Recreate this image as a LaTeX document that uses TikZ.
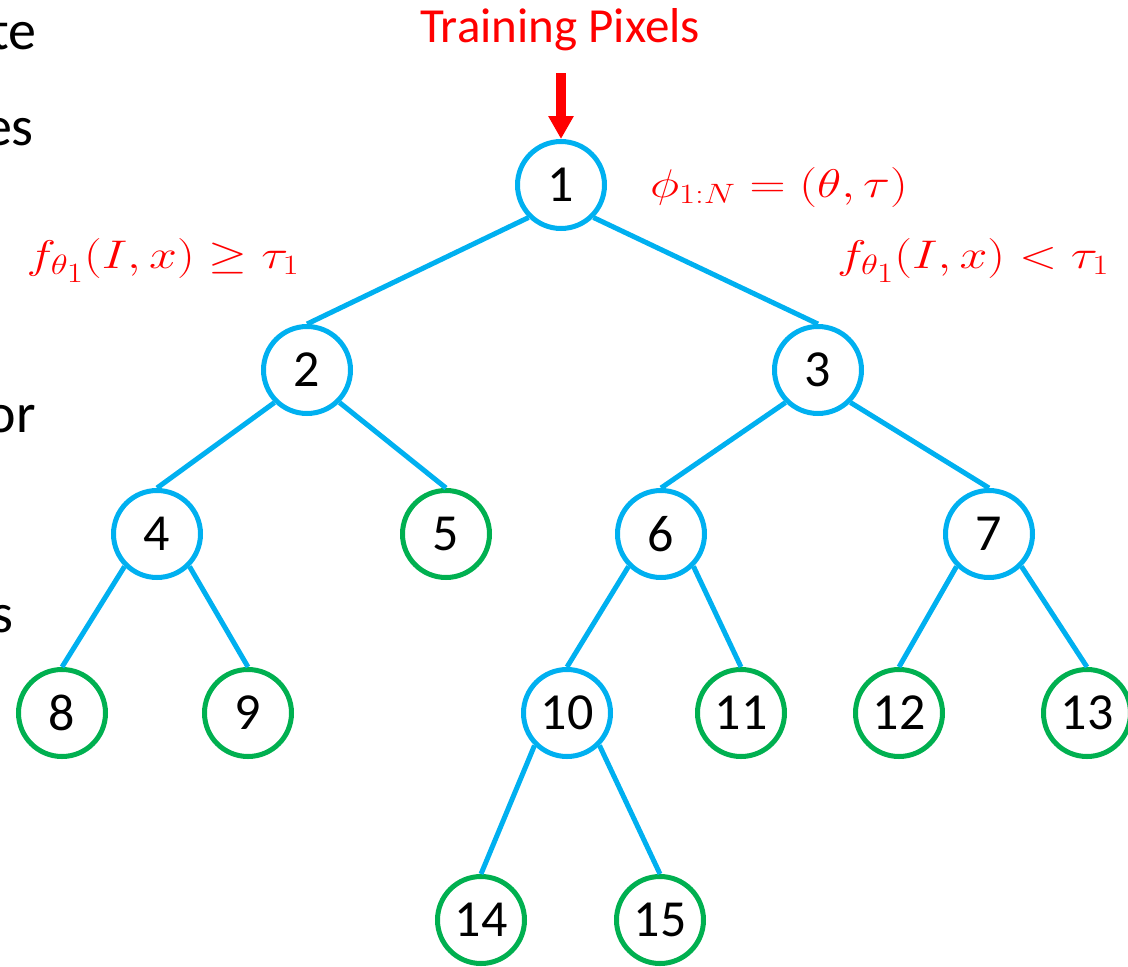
\RequirePackage{fix-cm}
\documentclass[tikz,border=0pt]{standalone}
\usepackage{graphicx}
\usepackage[no-math]{fontspec}
\setmainfont{Carlito}
\usetikzlibrary{arrows.meta}
\definecolor{tblue}{RGB}{0,176,240}
\definecolor{tgreen}{RGB}{0,176,80}
\newcommand{\wmath}[1]{\scalebox{1.25}[1]{$#1$}}
\begin{document}
\begin{tikzpicture}[x=1pt,y=-1pt,
  tn/.style={circle,draw=tblue,line width=5pt,minimum size=87pt,inner sep=0pt,font=\fontsize{52}{60}\selectfont},
  leaf/.style={tn,draw=tgreen},
  edge/.style={draw=tblue,line width=5pt},
  lbl/.style={text=red,inner sep=0pt,font=\fontsize{40}{44}\selectfont},
  side/.style={font=\fontsize{56}{60}\selectfont,anchor=base east,inner sep=0pt}]
\useasboundingbox (0,0) rectangle (1128,967);
\clip (0,0) rectangle (1128,967);
% cut-off slide text at left
\node[side] (s1) at (37,49) {te};
\node[side] (s2) at (34,145) {es};
\node[side] (s3) at (36,432) {or};
\node[side] (s4) at (14,632) {s};
% tree nodes
\node[tn] (n1) at (561,185) {1};
\node[tn] (n2) at (307,370) {2};
\node[tn] (n3) at (818,370) {3};
\node[tn] (n4) at (157,534) {4};
\node[leaf] (n5) at (446,534) {5};
\node[tn] (n6) at (661,534) {6};
\node[tn] (n7) at (989,534) {7};
\node[leaf] (n8) at (62,713) {8};
\node[leaf] (n9) at (248,713) {9};
\node[tn] (n10) at (567,713) {10};
\node[leaf] (n11) at (741,713) {11};
\node[leaf] (n12) at (899,713) {12};
\node[leaf] (n13) at (1087,713) {13};
\node[leaf] (n14) at (481,920) {14};
\node[leaf] (n15) at (660,920) {15};
% edges
\draw[edge] (n1.225) -- (n2.north);
\draw[edge] (n1.315) -- (n3.north);
\draw[edge] (n2.225) -- (n4.north);
\draw[edge] (n2.315) -- (n5.north);
\draw[edge] (n3.225) -- (n6.north);
\draw[edge] (n3.315) -- (n7.north);
\draw[edge] (n4.225) -- (n8.north);
\draw[edge] (n4.315) -- (n9.north);
\draw[edge] (n6.225) -- (n10.north);
\draw[edge] (n6.315) -- (n11.north);
\draw[edge] (n7.225) -- (n12.north);
\draw[edge] (n7.315) -- (n13.north);
\draw[edge] (n10.225) -- (n14.north);
\draw[edge] (n10.315) -- (n15.north);
% input arrow and labels
\node[text=red,font=\fontsize{49}{56}\selectfont] (tp) at (560,30) {Training Pixels};
\coordinate (as) at (561,73);
\draw[red,line width=10pt,-{Triangle[width=24pt,length=23pt]}] (as) -- (n1.north);
\node[lbl,anchor=base] (phi) at (779,197) {\wmath{\phi_{1:N}=(\theta,\tau)}};
\node[lbl,anchor=base] (lf) at (163,268) {\wmath{f_{\theta_{\scriptstyle 1}}(I,x)\geq\tau_1}};
\node[lbl,anchor=base] (rf) at (973,268) {\wmath{f_{\theta_{\scriptstyle 1}}(I,x)<\tau_1}};
\end{tikzpicture}
\end{document}
